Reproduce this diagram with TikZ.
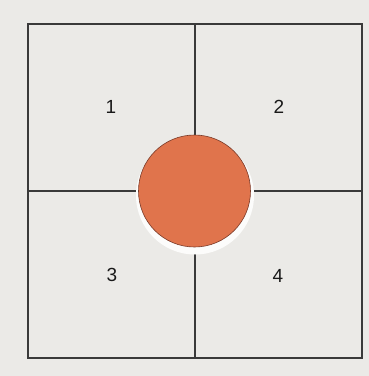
\documentclass[tikz,border=0pt]{standalone}
\usepackage{fontspec}
\setmainfont{Liberation Sans}
\definecolor{paper}{HTML}{EBEAE7}
\definecolor{ink}{HTML}{3A3A3A}
\definecolor{ball}{HTML}{E0744C}
\definecolor{ballrim}{HTML}{7A3A28}
\begin{document}
\begin{tikzpicture}[x=1pt,y=-1pt,
  framebox/.style={draw=ink,line width=1.6pt,minimum width=334pt,minimum height=334pt,inner sep=0pt},
  divider/.style={draw=ink,line width=1.1pt},
  qlabel/.style={font=\fontsize{19}{19}\selectfont,text=black!90},
  ballnode/.style={circle,fill=ball,draw=ballrim,line width=0.6pt,minimum size=112pt,inner sep=0pt},
  halo/.style={circle,fill=white!85!paper,minimum size=118pt,inner sep=0pt}]
\fill[paper] (0,0) rectangle (369,376);
\useasboundingbox (0,0) rectangle (369,376);
\node[framebox] (frame) at (195,191) {};
\draw[divider] (frame.north) -- (frame.south);
\draw[divider] (frame.west) -- (frame.east);
\node[halo] (glow) at (195,195.5) {};
\node[ballnode] (ball) at (194.5,191) {};
\node[qlabel] (q1) at (111,107) {1};
\node[qlabel] (q2) at (279,107) {2};
\node[qlabel] (q3) at (112,275) {3};
\node[qlabel] (q4) at (278,276) {4};
\end{tikzpicture}
\end{document}
